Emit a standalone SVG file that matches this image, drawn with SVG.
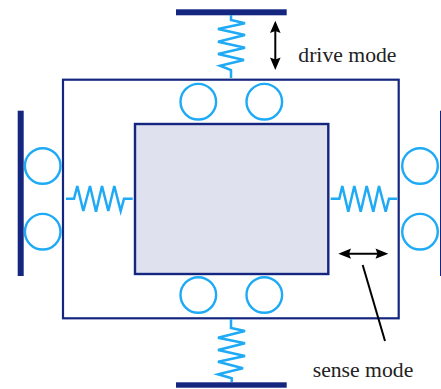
<svg xmlns="http://www.w3.org/2000/svg" width="441" height="389" viewBox="0 0 441 389">
<style>
.bar{fill:#14267f}
.frame{fill:none;stroke:#14267f;stroke-width:2.2}
.mass{fill:#dfe1ee;stroke:#14267f;stroke-width:2.4}
.roller{fill:none;stroke:#1eaaf5;stroke-width:2.4}
.spring{fill:none;stroke:#1eaaf5;stroke-width:2.5;stroke-linejoin:miter}
.arrow{fill:none;stroke:#000;stroke-width:2}
.head{fill:#000}
text{font-family:"Liberation Serif","Times New Roman",serif;font-size:21.7px;fill:#222}
</style>
<rect width="441" height="389" fill="#fff"/>
<g id="anchor-top"><rect class="bar" x="176" y="9.3" width="110.7" height="6"/></g>
<g id="anchor-bottom"><rect class="bar" x="176" y="382.3" width="110.7" height="5.4"/></g>
<g id="anchor-left"><rect class="bar" x="17.7" y="110.7" width="6" height="165.3"/></g>
<g id="anchor-right"><rect class="bar" x="440" y="110.7" width="1" height="165.3"/></g>
<g id="frame"><rect class="frame" x="63" y="79.7" width="335.7" height="238.6"/></g>
<g id="mass"><rect class="mass" x="135" y="124" width="193.3" height="150"/></g>
<g id="rollers-top"><circle class="roller" cx="198.3" cy="101.7" r="17.8"/><circle class="roller" cx="264.3" cy="101.7" r="17.8"/></g>
<g id="rollers-bottom"><circle class="roller" cx="198.3" cy="295" r="17.8"/><circle class="roller" cx="264.3" cy="295" r="17.8"/></g>
<g id="rollers-left"><circle class="roller" cx="42.7" cy="166" r="17.8"/><circle class="roller" cx="42.7" cy="231.7" r="17.8"/></g>
<g id="rollers-right"><circle class="roller" cx="420" cy="166" r="17.8"/><circle class="roller" cx="420" cy="231.7" r="17.8"/></g>
<g id="connectors">
<polyline class="spring" points="231,15 231,20 245,23.3 218,29 245,35 218,41.7 245,47.7 218,54 244,60 220,65.7 231,70 231,78"/>
<polyline class="spring" points="231,319 231,328 245,331 218,337.7 245,343.3 218,350 245,356 218,361.7 243,368.3 218,374.3 231.7,378.3 231.7,382"/>
<polyline class="spring" points="66,198.7 74,198.7 77.3,186 83.3,211 90,186 96,211.7 102,186 108.3,211 114.3,186 120.7,211 124,198.7 132.7,198.7"/>
<polyline class="spring" points="330.7,198.7 339.3,198.7 342.3,186 348.3,211.7 354.3,186 360.7,211.7 366.7,186 373.3,211.7 379,186 385.7,211.7 389,198.7 397.3,198.7"/>
<line class="arrow" x1="275.3" y1="28" x2="275.3" y2="62"/>
<polygon class="head" points="275.3,20.7 270,33 275.3,31 280.6,33"/>
<polygon class="head" points="275.3,70 270,57.5 275.3,59.5 280.6,57.5"/>
<line class="arrow" x1="346" y1="253.7" x2="380" y2="253.7"/>
<polygon class="head" points="338.3,253.7 351,248.6 349,253.7 351,258.8"/>
<polygon class="head" points="388.3,253.7 375.5,248.6 377.5,253.7 375.5,258.8"/>
<line class="arrow" x1="362.7" y1="265" x2="385" y2="341"/>
</g>
<text x="298.3" y="62">drive mode</text>
<text x="312.7" y="376.7">sense mode</text>
</svg>
